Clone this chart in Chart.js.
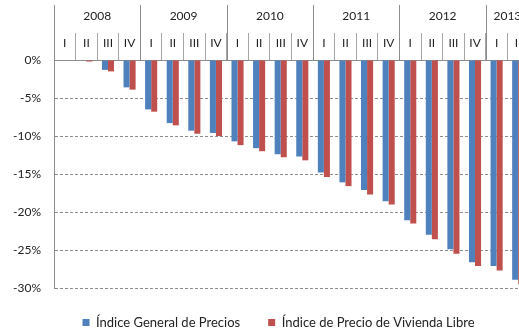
<!DOCTYPE html>
<html>
<head>
<meta charset="utf-8">
<script src="https://cdn.jsdelivr.net/npm/chart.js@4.4.0/dist/chart.umd.min.js"></script>
<style>
  html, body { margin: 0; padding: 0; overflow: hidden; background: #fff; }
  canvas { display: block; }
</style>
</head>
<body>
<canvas id="myChart" width="530" height="332"></canvas>
<script>
var years = ['2008', '2009', '2010', '2011', '2012', '2013']
var quarters = ['I', 'II', 'III', 'IV', 'I', 'II', 'III', 'IV', 'I', 'II', 'III', 'IV',
                'I', 'II', 'III', 'IV', 'I', 'II', 'III', 'IV', 'I', 'II']
var indiceGeneral = [0, 0, -1.3, -3.6, -6.5, -8.3, -9.3, -9.6, -10.7, -11.6, -12.4, -12.7,
                     -14.8, -16.1, -17.1, -18.6, -21.1, -23.0, -24.9, -26.6, -27.1, -28.9]
var indiceVivienda = [0, -0.2, -1.5, -3.9, -6.8, -8.6, -9.7, -10.0, -11.2, -12.0, -12.8, -13.2,
                      -15.4, -16.6, -17.7, -19.0, -21.5, -23.6, -25.5, -27.1, -27.7, -29.5]
var yMin = -30, yMax = 0, yStep = 5

var font = "Lato, 'Open Sans', sans-serif"
var textColor = '#222'

// year row above the quarter labels, with its dividers
var yearHeader = {
  id: 'yearHeader',
  afterLayout: function(chart) {
    // legend is centred a bit right of the canvas middle
    var legend = chart.legend
    legend.left = 28
    legend.width = legend.right - legend.left
  },
  afterDraw: function(chart) {
    var ctx = chart.ctx
    var x = chart.scales.x
    var area = chart.chartArea
    var half = (x.getPixelForValue(1) - x.getPixelForValue(0)) / 2
    ctx.save()
    ctx.strokeStyle = '#8c8c8c'
    ctx.lineWidth = 1
    ctx.font = '12px ' + font
    ctx.fillStyle = textColor
    ctx.textAlign = 'center'
    ctx.textBaseline = 'middle'
    years.forEach(function(year, j) {
      var first = j * 4
      var last = Math.min(first + 3, quarters.length - 1)
      var x0 = x.getPixelForValue(first) - half
      var x1 = x.getPixelForValue(last) + half
      var lx = Math.round(x0) + 0.5
      ctx.beginPath()
      ctx.moveTo(lx, 5)
      ctx.lineTo(lx, area.top)
      ctx.stroke()
      ctx.fillText(year, (x0 + x1) / 2, 16)
    })
    ctx.restore()
  }
}

var ctx = document.getElementById('myChart').getContext('2d')
var myChart = new Chart(ctx, {
  type: 'bar',
  data: {
    labels: quarters,
    datasets: [{
      label: 'Índice General de Precios',
      data: indiceGeneral,
      backgroundColor: '#4f81bd',
      categoryPercentage: 0.56,
      barPercentage: 1
    }, {
      label: 'Índice de Precio de Vivienda Libre',
      data: indiceVivienda,
      backgroundColor: '#c0504d',
      categoryPercentage: 0.56,
      barPercentage: 1
    }]
  },
  options: {
    responsive: false,
    animation: false,
    layout: { padding: { left: 0, right: 1, top: 0, bottom: 0 } },
    plugins: {
      tooltip: { enabled: false },
      legend: {
        position: 'bottom',
        maxHeight: 44,
        labels: {
          boxWidth: 7, boxHeight: 7, padding: 28,
          color: textColor,
          font: { family: font, size: 13 }
        }
      }
    },
    scales: {
      x: {
        position: 'top',
        offset: true,
        grid: { offset: true, drawOnChartArea: false, tickLength: 27, color: '#a6a6a6' },
        border: { color: '#8c8c8c' },
        ticks: { color: textColor, font: { family: font, size: 12 }, padding: -17, maxRotation: 0, autoSkip: false },
        afterFit: function(scale) { scale.height = 60 }
      },
      y: {
        min: yMin,
        max: yMax,
        grid: { color: '#8c8c8c', drawTicks: false },
        border: { color: '#8c8c8c', dash: [3, 2] },
        ticks: {
          stepSize: yStep, padding: 13, color: textColor,
          font: { family: font, size: 12 },
          callback: function(v) { return v + '%' }
        },
        afterFit: function(scale) { scale.width = 54 }
      }
    }
  },
  plugins: [yearHeader]
})
</script>
</body>
</html>
